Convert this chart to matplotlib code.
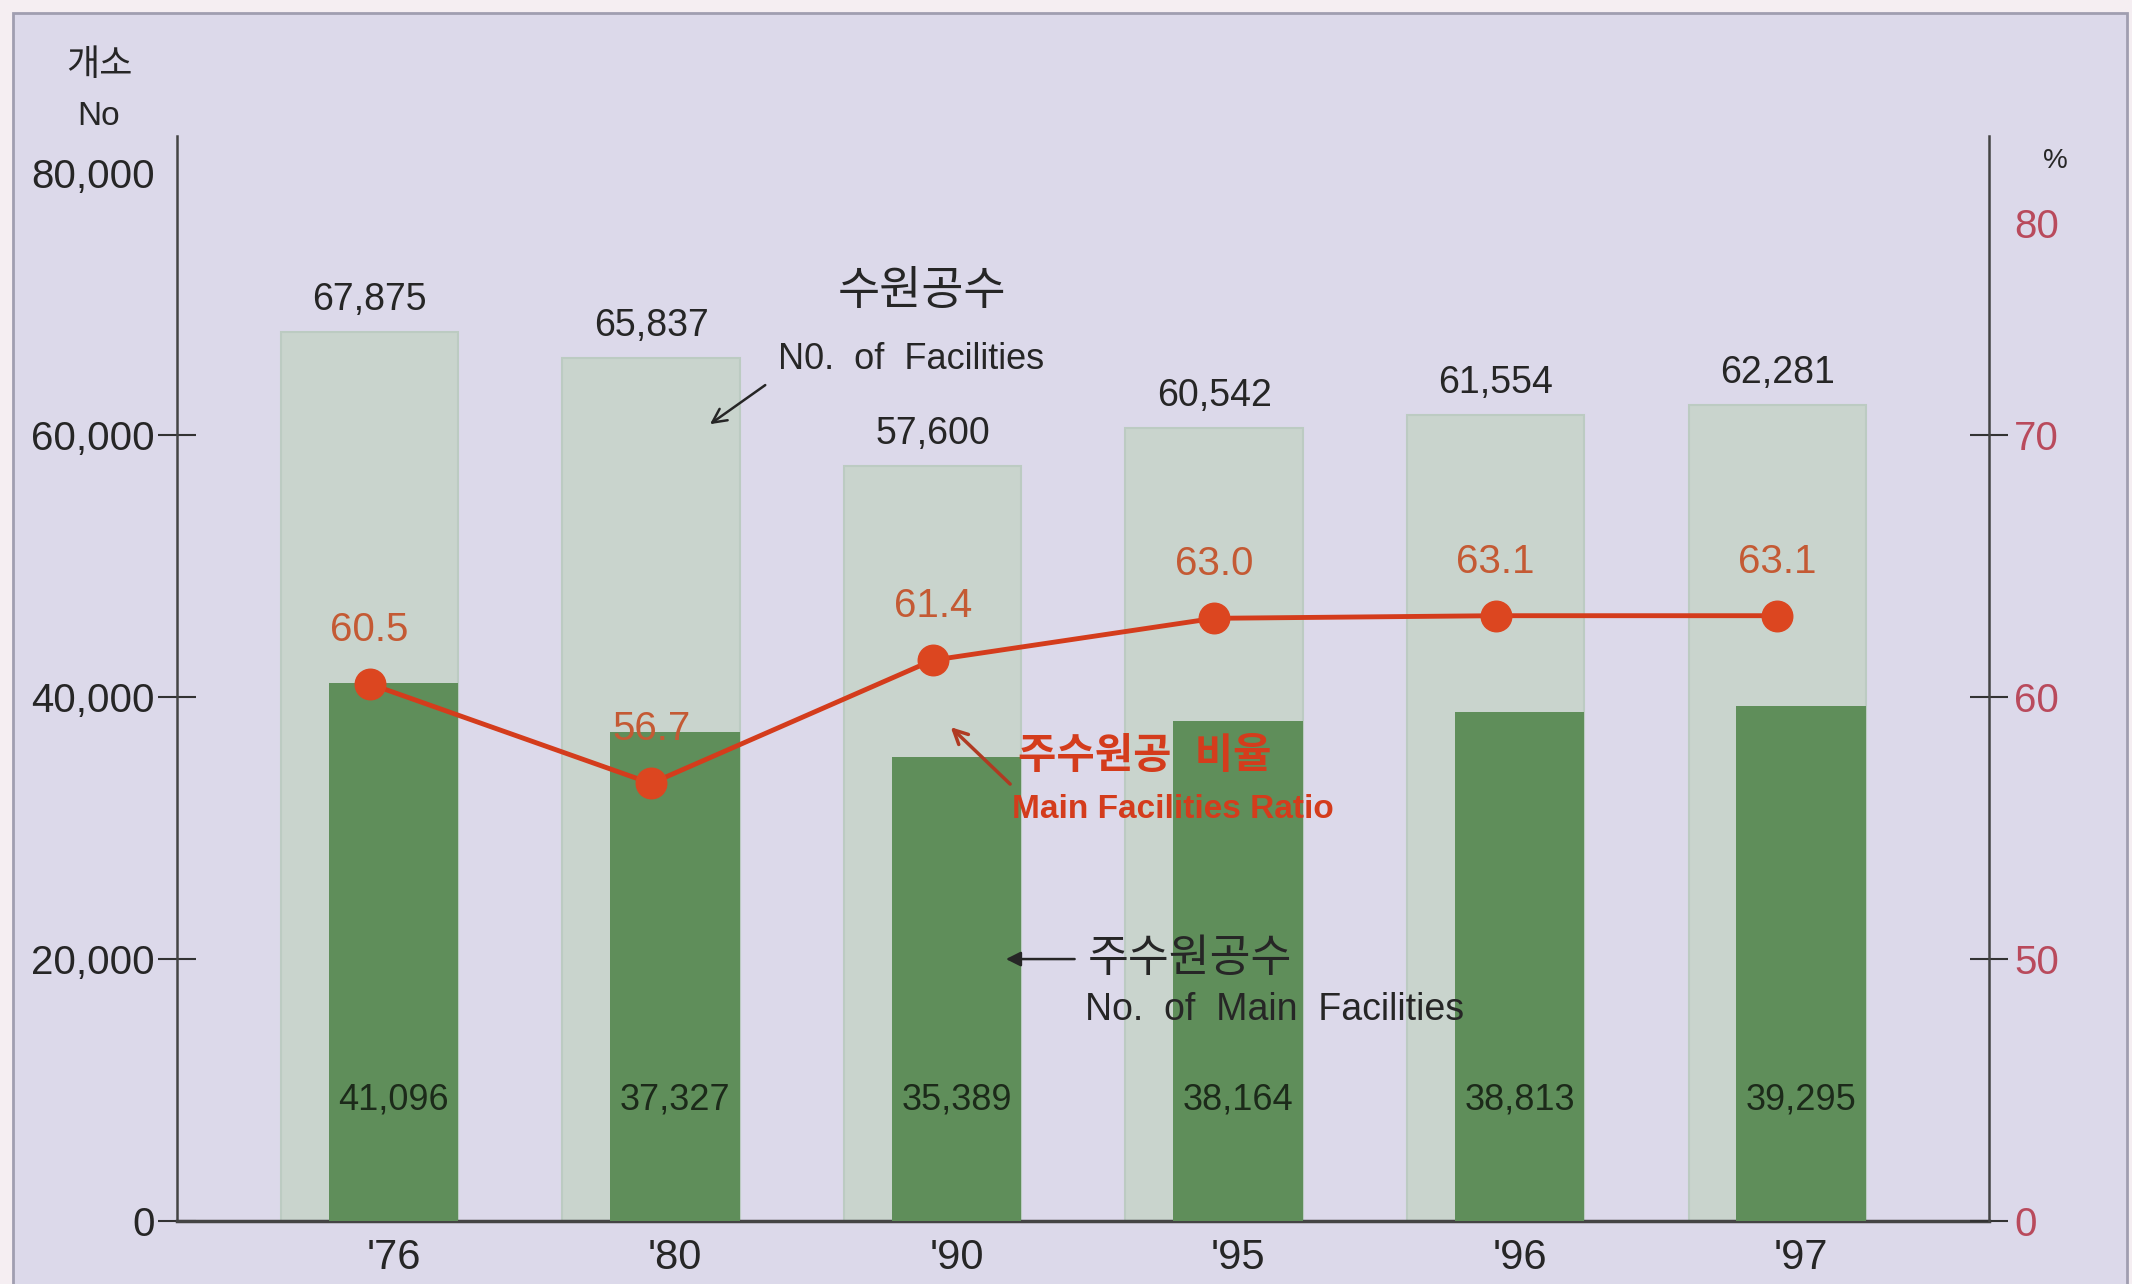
import matplotlib
matplotlib.use('Agg')
import matplotlib.pyplot as plt
import numpy as np
from matplotlib.patches import Rectangle
from matplotlib.transforms import ScaledTranslation, blended_transform_factory

plt.rcParams['font.family'] = ['Liberation Sans', 'Noto Sans CJK KR']
narrow = ['Liberation Sans Narrow', 'Liberation Sans', 'Noto Sans CJK KR']

# data
years = ["'76", "'80", "'90", "'95", "'96", "'97"]
facilities = [67875, 65837, 57600, 60542, 61554, 62281]        # 수원공수
main_facilities = [41096, 37327, 35389, 38164, 38813, 39295]   # 주수원공수
ratio = [60.5, 56.7, 61.4, 63.0, 63.1, 63.1]                   # 주수원공 비율 (%)

left_ticks = [0, 20000, 40000, 60000, 80000]
right_ticks = [0, 50, 60, 70, 80]

bg = '#dcd9ea'
light = '#c9d4cd'
green = '#5f8e5a'
red = '#d43c1c'
label_red = '#c45a34'
tick_red = '#b94a5c'
dark = '#262626'

fig = plt.figure(figsize=(21.32, 12.84), dpi=100, facecolor='#f5eef2')
fig.patches.append(Rectangle((13 / 2132, -0.01), (2127 - 13) / 2132, 1 - 13 / 1284 + 0.01,
                             transform=fig.transFigure, facecolor=bg,
                             edgecolor='#a09eb0', lw=2, zorder=-5))

ax = fig.add_axes([0.0829, 0.049, 0.85, 0.845])
ax.set_facecolor('none')
x = np.arange(len(years))
shift = 0.085

ax.bar(x - shift, facilities, width=0.63, color=light, edgecolor='#bccbc2', lw=1.5, zorder=2)
ax.bar(x, main_facilities, width=0.46, color=green, zorder=3)

ax.set_xlim(-0.77, 5.667)
ax.set_ylim(0, 82800)
ax.set_yticks(left_ticks)
ax.set_yticklabels([f'{t:,}' for t in left_ticks])
ax.set_xticks(x)
ax.set_xticklabels(years)
for s in ['top', 'right']:
    ax.spines[s].set_visible(False)
ax.spines['left'].set_color('#444444')
ax.spines['left'].set_linewidth(1.8)
ax.spines['bottom'].set_color('#444444')
ax.spines['bottom'].set_linewidth(2.5)

for xi, v in zip(x, facilities):
    ax.annotate(f'{v:,}', (xi - shift, v), xytext=(0, 14), textcoords='offset pixels',
                ha='center', va='bottom', fontsize=27, color=dark)

low = blended_transform_factory(ax.transData, ax.transAxes)
for xi, v in zip(x, main_facilities):
    ax.text(xi, 0.112, f'{v:,}', transform=low, ha='center', va='center',
            fontsize=26, color='#1c2a1a', family=narrow)

# right axis: 0-50 squeezed, 50-80 stretched
def fwd(p):
    p = np.asarray(p, dtype=float)
    return np.where(p < 50, p * 0.4, 20 + (p - 50) * 2.0)

def inv(v):
    v = np.asarray(v, dtype=float)
    return np.where(v < 20, v / 0.4, 50 + (v - 20) / 2.0)

ax2 = ax.twinx()
ax2.set_yscale('function', functions=(fwd, inv))
ax2.set_ylim(0, float(inv(82.8)))
ax2.set_yticks(right_ticks)
ax2.set_yticklabels([str(t) for t in right_ticks])
ax2.tick_params(axis='y', direction='inout', length=28, width=1.5, color='#333333',
                labelsize=29, labelcolor=tick_red, pad=4)
for s in ['top', 'left', 'bottom']:
    ax2.spines[s].set_visible(False)
ax2.spines['right'].set_color('#444444')
ax2.spines['right'].set_linewidth(1.8)
top_tick = ax2.yaxis.get_major_ticks()[-1]
top_tick.tick2line.set_visible(False)
top_tick.label2.set_transform(top_tick.label2.get_transform()
                              + ScaledTranslation(0, -0.5, fig.dpi_scale_trans))

# left tick styling after twinx (twinx resets tick visibility)
ax.tick_params(axis='x', length=0, labelsize=30, pad=12, labelcolor=dark)
ax.tick_params(axis='y', direction='inout', length=28, width=1.5, color='#333333',
               labelsize=29, labelcolor=dark, pad=2)
ax.yaxis.get_major_ticks()[-1].tick1line.set_visible(False)

ax2.plot(x - shift, ratio, color=red, lw=3.5, marker='o', ms=22,
         mfc='#dc4620', mec='#dc4620', zorder=5)
for xi, v in zip(x, ratio):
    ax2.annotate(f'{v:.1f}', (xi - shift, v), xytext=(0, 54), textcoords='offset pixels',
                 ha='center', va='center', fontsize=29, color=label_red, family=narrow)

# annotations
ax.text(0.411, 0.856, '수원공수', transform=ax.transAxes, ha='center', va='center',
        fontsize=33, color=dark)
ax.text(0.332, 0.794, 'N0.  of  Facilities', transform=ax.transAxes, ha='left', va='center',
        fontsize=26, color=dark)
ax.annotate('', xy=(0.293, 0.733), xytext=(0.326, 0.772), xycoords='axes fraction',
            arrowprops=dict(arrowstyle='->', color=dark, lw=1.8, mutation_scale=25))

ax.text(0.464, 0.428, '주수원공  비율', transform=ax.transAxes, ha='left', va='center',
        fontsize=30, color=red, fontweight='bold')
ax.text(0.461, 0.379, 'Main Facilities Ratio', transform=ax.transAxes, ha='left', va='center',
        fontsize=24, color=red, fontweight='bold', family=narrow)
ax.annotate('', xy=(0.426, 0.457), xytext=(0.461, 0.401), xycoords='axes fraction',
            arrowprops=dict(arrowstyle='->', color='#b03a22', lw=2.5, mutation_scale=25))

ax.annotate('', xy=(0.456, 0.2415), xytext=(0.497, 0.2415), xycoords='axes fraction',
            arrowprops=dict(arrowstyle='-|>', color=dark, lw=1.8, mutation_scale=22))
ax.text(0.503, 0.2415, '주수원공수', transform=ax.transAxes, ha='left', va='center',
        fontsize=32, color=dark)
ax.text(0.501, 0.1945, 'No.  of  Main  Facilities', transform=ax.transAxes, ha='left',
        va='center', fontsize=27, color=dark)

# unit labels
fig.text(0.0466, 0.949, '개소', ha='center', va='center', fontsize=26, color=dark)
fig.text(0.046, 0.909, 'No', ha='center', va='center', fontsize=24, color=dark)
fig.text(0.964, 0.875, '%', ha='center', va='center', fontsize=20, color=dark)

fig.savefig('out.png', dpi=100, facecolor=fig.get_facecolor())
